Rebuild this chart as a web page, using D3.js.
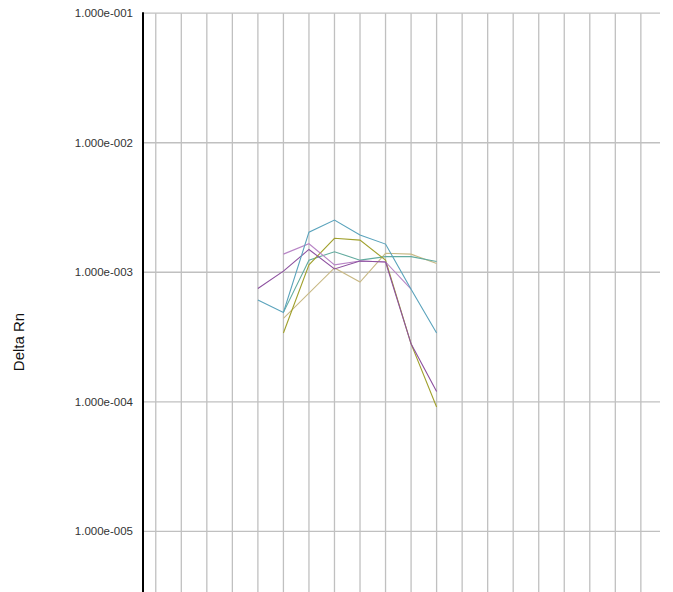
<!DOCTYPE html>
<html>
<head>
<meta charset="utf-8">
<script src="https://cdn.jsdelivr.net/npm/d3@7"></script>
<style>
  body { margin: 0; background: #fff; }
  text { font-family: Arial, "Liberation Sans", sans-serif; }
</style>
</head>
<body>
<svg id="chart" width="673" height="592"></svg>
<script>
// amplification plot, cycles on x (not labelled), log Delta Rn on y
const cycles = d3.range(1, 21)
const yTicks = [1e-1, 1e-2, 1e-3, 1e-4, 1e-5]

const tealA  = { start: 5, color: "#5aa3bc", values: [6.1e-4, 4.9e-4, 2.04e-3, 2.53e-3, 1.94e-3, 1.65e-3, 7.4e-4, 3.4e-4] }
const tealB  = { start: 6, color: "#62ab9f", values: [4.9e-4, 1.24e-3, 1.44e-3, 1.24e-3, 1.32e-3, 1.32e-3, 1.21e-3] }
const purple = { start: 5, color: "#8d519f", values: [7.5e-4, 1.02e-3, 1.5e-3, 1.06e-3, 1.22e-3, 1.2e-3, 2.8e-4, 1.2e-4] }
const pink   = { start: 6, color: "#b885c6", values: [1.38e-3, 1.66e-3, 1.14e-3, 1.22e-3, 1.2e-3, 7.4e-4] }
const olive  = { start: 6, color: "#a0a02c", values: [3.4e-4, 1.14e-3, 1.83e-3, 1.77e-3, 1.24e-3, 2.8e-4, 9.1e-5] }
const tan    = { start: 6, color: "#c8b985", values: [4.4e-4, 6.9e-4, 1.08e-3, 8.4e-4, 1.40e-3, 1.38e-3, 1.17e-3] }
const series = [tan, tealB, olive, pink, purple, tealA]

const svg = d3.select('#chart')
const left = 143, right = 660, bottom = 592

const x = d3.scaleLinear().domain([0.5, 20.75]).range([left, right])
const y = d3.scaleLog().domain([1e-1, 1e-5]).range([13.2, 531.3])

// vertical grid
svg.append('g')
  .selectAll('line')
  .data(cycles)
  .enter()
  .append('line')
  .attr('x1', d => x(d)).attr('x2', d => x(d))
  .attr('y1', y(1e-1)).attr('y2', bottom)
  .attr('stroke', '#c0c0c0')
  .attr('stroke-width', 1.3)

// horizontal grid + labels
const yg = svg.append('g')
yg.selectAll('line')
  .data(yTicks)
  .enter()
  .append('line')
  .attr('x1', left).attr('x2', right)
  .attr('y1', d => y(d)).attr('y2', d => y(d))
  .attr('stroke', '#c0c0c0')
  .attr('stroke-width', 1.3)

yg.selectAll('text')
  .data(yTicks)
  .enter()
  .append('text')
  .attr('x', 133)
  .attr('y', d => y(d))
  .attr('dy', '0.35em')
  .attr('text-anchor', 'end')
  .style('font-size', '11.5px')
  .attr('fill', '#333')
  .text(d => {
    const e = Math.round(Math.log10(d))
    return '1.000e-' + String(-e).padStart(3, '0')
  })

// axis line
svg.append('line')
  .attr('x1', left).attr('x2', left)
  .attr('y1', y(1e-1) - 1).attr('y2', bottom)
  .attr('stroke', '#000')
  .attr('stroke-width', 2)

svg.append('text')
  .attr('transform', 'translate(24,342) rotate(-90)')
  .attr('text-anchor', 'middle')
  .style('font-size', '15px')
  .attr('fill', '#111')
  .text('Delta Rn')

const line = d3.line()
  .x(d => x(d.c))
  .y(d => y(d.v))

svg.append('g')
  .selectAll('path')
  .data(series)
  .enter()
  .append('path')
  .attr('d', s => line(s.values.map((v, i) => ({ c: s.start + i, v: v }))))
  .attr('fill', 'none')
  .attr('stroke', s => s.color)
  .attr('stroke-width', 1.1)
</script>
</body>
</html>
